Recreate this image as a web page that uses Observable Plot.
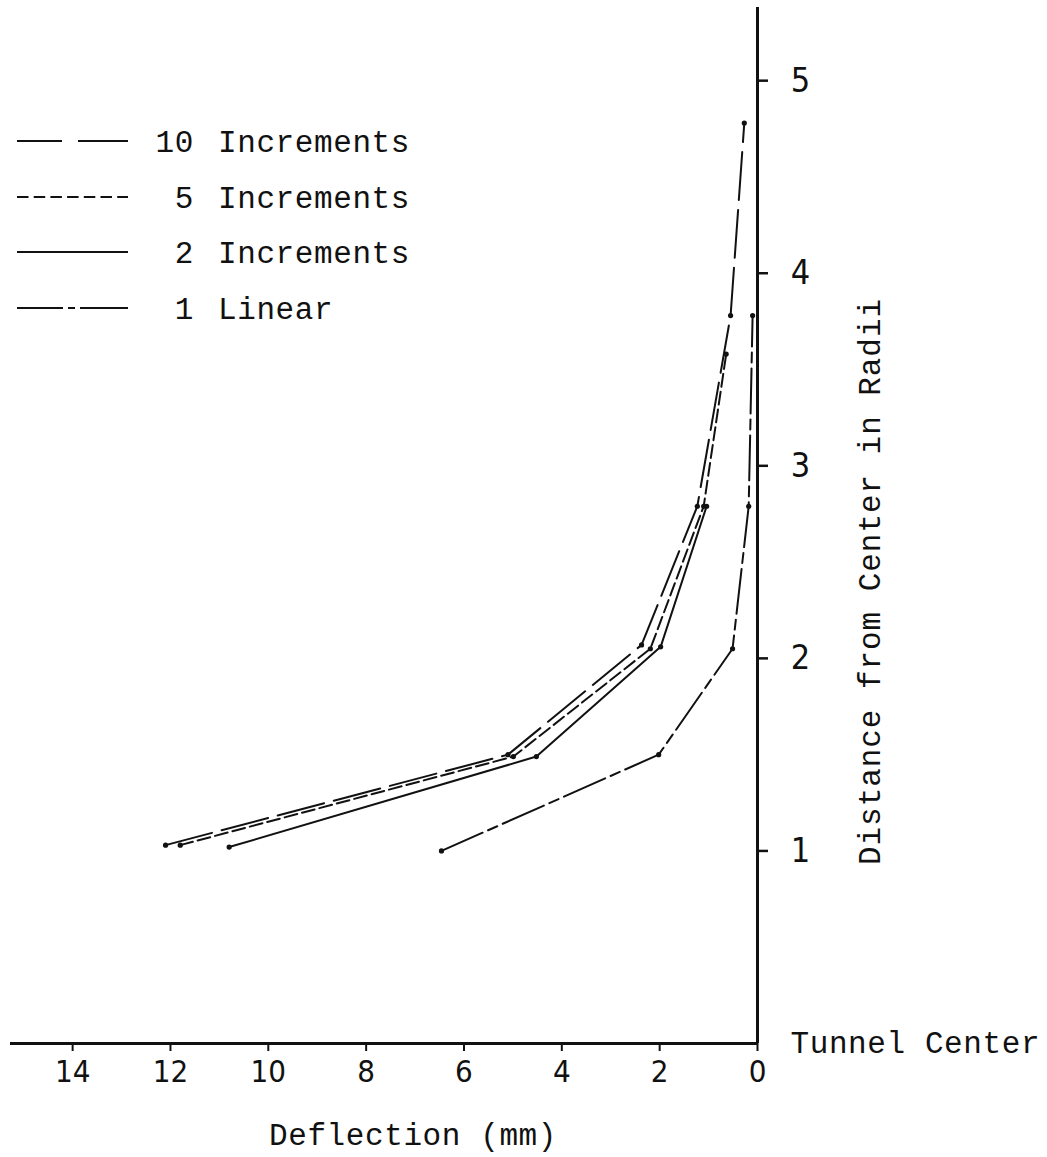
<!DOCTYPE html>
<html>
<head>
<meta charset="utf-8">
<script src="https://cdn.jsdelivr.net/npm/d3@7"></script>
<script src="https://cdn.jsdelivr.net/npm/@observablehq/plot@0.6"></script>
<style>
  body { margin: 0; background: #fff; }
  #wrap { position: relative; width: 1047px; height: 1157px; }
  #legend { position: absolute; left: 0; top: 0; }
</style>
</head>
<body>
<div id="wrap"></div>
<script>
// Deflection (mm) at each distance from the tunnel center (in radii)
const dist10 = [1.03, 1.50, 2.07, 2.79, 3.78, 4.78];
const defl10 = [12.1, 5.10, 2.37, 1.23, 0.55, 0.27];

const dist5 = [1.03, 1.49, 2.05, 2.79, 3.58];
const defl5 = [11.8, 4.99, 2.19, 1.10, 0.64];

const dist2 = [1.02, 1.49, 2.06, 2.79];
const defl2 = [10.8, 4.52, 1.98, 1.04];

const distLin = [1.00, 1.50, 2.05, 2.79, 3.78];
const deflLin = [6.46, 2.02, 0.51, 0.18, 0.10];

const legendNums = ["10", "5", "2", "1"];
const legendNames = ["Increments", "Increments", "Increments", "Linear"];
const dashes = ["48,10", "13,5", null, "45,6,10,6"];
const legendDashes = ["45,16,50", "11.5,5.2", null, "46,5,7,5,48"];

const xTicks = [14, 12, 10, 8, 6, 4, 2, 0];
const yTicks = [1, 2, 3, 4, 5];

const seriesData = [
  [defl10, dist10], [defl5, dist5], [defl2, dist2], [deflLin, distLin]
].map(([xs, ys]) => xs.map((d, i) => ({deflection: d, distance: ys[i]})));

const ink = "#111";
const mono = "'Liberation Mono', 'Courier New', monospace";
const hand = "'Liberation Sans Narrow', 'DejaVu Sans Condensed', 'Liberation Sans', sans-serif";

const marks = [];
seriesData.forEach((rows, i) => {
  marks.push(Plot.line(rows, {
    x: "deflection", y: "distance",
    stroke: ink, strokeWidth: 2,
    strokeDasharray: dashes[i] ?? undefined
  }));
  marks.push(Plot.dot(rows, {x: "deflection", y: "distance", r: 2.6, fill: ink, stroke: "none"}));
});

const chart = Plot.plot({
  width: 1047,
  height: 1157,
  marginLeft: 10,
  marginRight: 290,
  marginTop: 7,
  marginBottom: 114,
  style: {background: "#fff", color: ink, fontFamily: mono},
  x: {domain: [15.27, 0], axis: null},
  y: {domain: [0, 5.38], axis: null},
  marks: [
    Plot.axisX({ticks: xTicks, tickSize: 8, tickPadding: 8, strokeWidth: 2, className: "xt",
                anchor: "bottom", label: null, tickFormat: d => String(d)}),
    Plot.axisY({ticks: yTicks, tickSize: 10, tickPadding: 33, strokeWidth: 2.5, className: "yt",
                anchor: "right", label: null, textAnchor: "middle", tickFormat: d => String(d)}),
    Plot.ruleY([0], {stroke: ink, strokeWidth: 3}),
    Plot.ruleX([0], {stroke: ink, strokeWidth: 3}),
    ...marks,
    Plot.text(["Tunnel Center"], {x: 0, y: 0, dx: 33, textAnchor: "start", fontSize: 31,
                                  fill: ink, className: "mono"}),
    Plot.text(["Deflection (mm)"], {frameAnchor: "bottom", textAnchor: "middle", dx: 29, dy: 101,
                                    fontSize: 31, fill: ink, className: "mono"}),
    Plot.text(["Distance from Center in Radii"], {frameAnchor: "right", textAnchor: "middle",
                                                  rotate: -90, dx: 113, dy: 56,
                                                  fontSize: 31, fill: ink, className: "ylab"})
  ]
});

const svg = d3.select(chart);
svg.selectAll(".xt text").attr("font-family", hand).attr("font-size", 31).attr("fill", ink);
svg.selectAll(".yt text").attr("font-family", hand).attr("font-size", 34).attr("fill", ink);
svg.selectAll(".xt path, .yt path").attr("stroke", ink);
svg.selectAll(".mono text").attr("letter-spacing", 0.6);
svg.selectAll(".ylab text").attr("letter-spacing", 0.95);

const wrap = document.getElementById("wrap");
wrap.appendChild(chart);

// Key for the four line styles, upper left
const legend = d3.select(wrap).append("svg")
  .attr("id", "legend").attr("width", 460).attr("height", 360);
const rowY = [141, 197, 252, 308];
legendNums.forEach((n, i) => {
  const g = legend.append("g").attr("transform", `translate(0,${rowY[i]})`);
  g.append("line").attr("x1", 17).attr("x2", 128).attr("y1", 0).attr("y2", 0)
    .attr("stroke", ink).attr("stroke-width", 2)
    .attr("stroke-dasharray", legendDashes[i]);
  g.append("text").attr("x", 194).attr("y", 0).attr("dy", "0.35em")
    .attr("text-anchor", "end").attr("font-family", mono).attr("font-size", 31)
    .attr("letter-spacing", 0.6).attr("fill", ink).text(n);
  g.append("text").attr("x", 218).attr("y", 0).attr("dy", "0.35em")
    .attr("font-family", mono).attr("font-size", 31)
    .attr("letter-spacing", 0.6).attr("fill", ink).text(legendNames[i]);
});
</script>
</body>
</html>
